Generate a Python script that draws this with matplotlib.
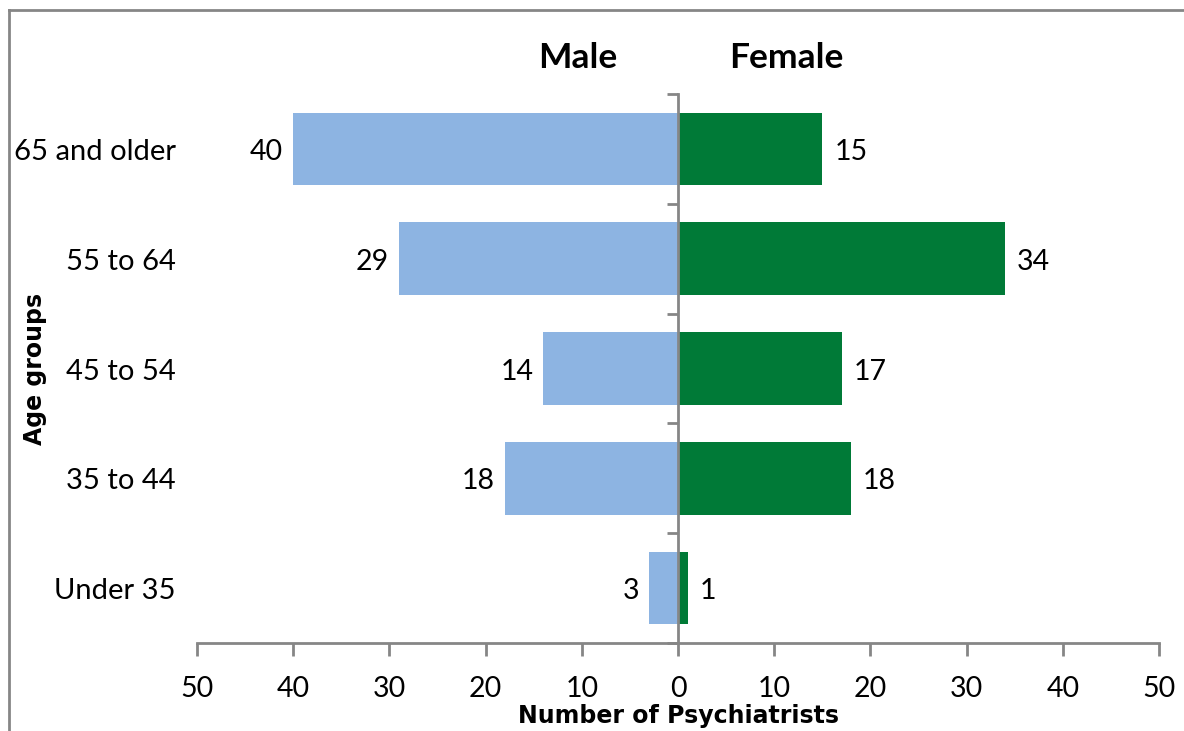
import matplotlib
matplotlib.use("Agg")
import matplotlib.pyplot as plt
from matplotlib.lines import Line2D
import numpy as np

categories = ["Under 35", "35 to 44", "45 to 54", "55 to 64", "65 and older"]
male = [3, 18, 14, 29, 40]
female = [1, 18, 17, 34, 15]
xticks = [-50, -40, -30, -20, -10, 0, 10, 20, 30, 40, 50]
xtick_labels = [str(abs(v)) for v in xticks]

male_color = "#8DB4E2"
female_color = "#007A37"
axis_gray = "#868686"
font = ["Lato", "DejaVu Sans"]
bold_font = ["DejaVu Sans"]

W, H = 1184, 731
fig = plt.figure(figsize=(W / 100, H / 100), dpi=100)
ax = fig.add_axes([197 / W, 1 - 643 / H, (1159 - 197) / W, (643 - 94) / H])

y = np.arange(len(categories))
ax.barh(y, [-m for m in male], height=0.66, color=male_color, zorder=2)
ax.barh(y, female, height=0.66, color=female_color, zorder=2)

ax.set_xlim(-50, 50)
ax.set_ylim(-0.5, len(categories) - 0.5)

for s in ["top", "right"]:
    ax.spines[s].set_visible(False)
ax.spines["bottom"].set_color(axis_gray)
ax.spines["bottom"].set_linewidth(2)
ax.spines["left"].set_position(("data", 0))
ax.spines["left"].set_color(axis_gray)
ax.spines["left"].set_linewidth(2)
ax.spines["left"].set_zorder(3)

ax.set_xticks(xticks)
ax.set_xticklabels(xtick_labels, fontsize=20.5, family=font)
ax.tick_params(axis="x", direction="out", length=9, width=2, color=axis_gray, pad=15)
ax.set_yticks(np.arange(len(categories) + 1) - 0.5)
ax.set_yticklabels([])
ax.tick_params(axis="y", direction="out", length=8, width=2, color=axis_gray)

trans = matplotlib.transforms.blended_transform_factory(fig.transFigure, ax.transData)
for yi, cat in zip(y, categories):
    ax.annotate(cat, (176 / W, yi), xycoords=trans, xytext=(0, -3),
                textcoords="offset pixels", ha="right", va="center",
                fontsize=21, family=font)

for yi, m, f in zip(y, male, female):
    ax.annotate(str(m), (-m, yi), xytext=(-10, -3), textcoords="offset pixels",
                ha="right", va="center", fontsize=20.5, family=font)
    ax.annotate(str(f), (f, yi), xytext=(12, -3), textcoords="offset pixels",
                ha="left", va="center", fontsize=20.5, family=font)

fig.text(578 / W, 1 - 58 / H, "Male", ha="center", va="center", fontsize=25.5,
         fontweight="bold", family=font)
fig.text(786 / W, 1 - 58 / H, "Female", ha="center", va="center", fontsize=25.5,
         fontweight="bold", family=font)

fig.text(678 / W, 1 - 716 / H, "Number of Psychiatrists", ha="center", va="center",
         fontsize=17, fontweight="bold", family=bold_font)
fig.text(35 / W, 1 - 369 / H, "Age groups", ha="center", va="center", rotation=90,
         fontsize=17, fontweight="bold", family=bold_font)

fig.add_artist(Line2D([8.5 / W, 8.5 / W], [0, 1 - 10 / H], transform=fig.transFigure,
                      color=axis_gray, lw=2))
fig.add_artist(Line2D([8.5 / W, 1], [1 - 10 / H, 1 - 10 / H], transform=fig.transFigure,
                      color=axis_gray, lw=2))

fig.savefig("out.png", dpi=100)
